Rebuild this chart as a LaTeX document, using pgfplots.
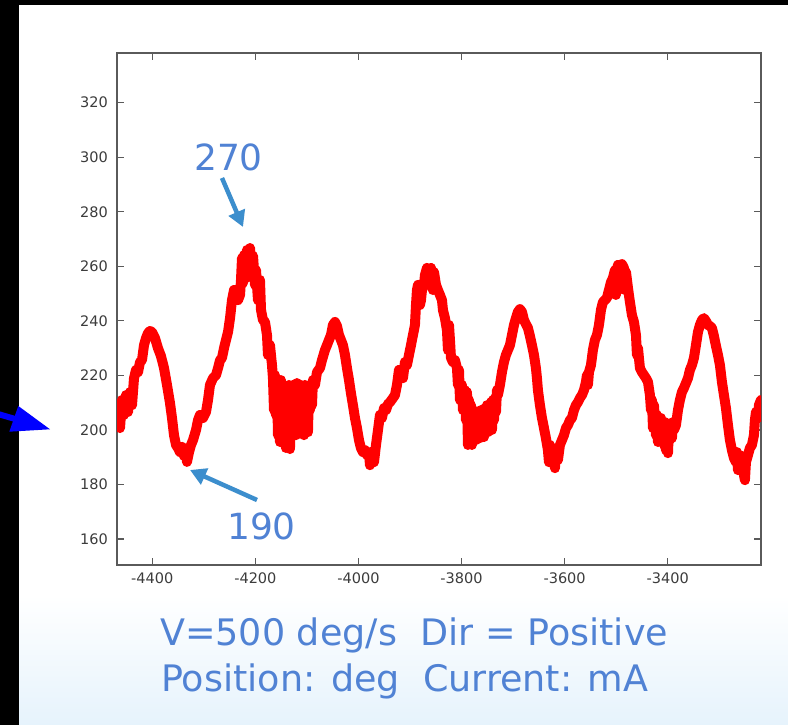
\documentclass[border=0pt]{standalone}
\usepackage{pgfplots}
\pgfplotsset{compat=1.18}
\usepackage{fontspec}
\setmainfont{Liberation Sans}
\newfontfamily\tickfont{DejaVu Sans}
\newfontfamily\annofont{DejaVu Sans}
\usetikzlibrary{arrows.meta}

\definecolor{axisgray}{RGB}{90,90,90}
\definecolor{labelgray}{RGB}{60,60,60}
\definecolor{annoblue}{RGB}{80,130,212}
\definecolor{arrowblue}{RGB}{60,142,205}
\definecolor{bgblue}{RGB}{230,243,252}

\begin{document}
\begin{tikzpicture}[x=1pt,y=1pt]
% page background: white panel, black frame strips, pale blue foot
\path[use as bounding box] (0,0) rectangle (788,725);
\fill[white] (0,0) rectangle (788,725);
\shade[top color=white, bottom color=bgblue] (0,0) rectangle (788,130);
\fill[black] (0,0) rectangle (19,725);
\fill[black] (0,720) rectangle (788,725);

\begin{axis}[
    at={(117pt,160pt)}, anchor=south west,
    width=644pt, height=512pt, scale only axis,
    xmin=-4468.5, xmax=-3219, ymin=150.5, ymax=338.2,
    xtick={-4400,-4200,...,-3400},
    ytick={160,180,...,320},
    tick align=inside,
    major tick length=7pt,
    axis line style={draw=axisgray, line width=1.2pt},
    tick style={draw=axisgray, line width=1.2pt},
    /pgf/number format/assume math mode=true,
    /pgf/number format/1000 sep={},
    ticklabel style={font=\tickfont\fontsize{14.5}{14.5}\selectfont, text=labelgray},
    xticklabel style={anchor=north, inner sep=0pt, yshift=-8pt},
    yticklabel style={anchor=east, inner sep=0pt, xshift=-9pt},
]
% current trace, position in deg, current in mA
\addplot[red, line width=10pt, line join=round, line cap=round, no markers] coordinates {
(-4468.5,209.1) (-4466.6,201.1) (-4464.6,207.3) (-4462.7,200.7) (-4458.8,211.0)
(-4454.9,205.5) (-4451.0,212.8) (-4447.1,206.6) (-4443.3,213.9) (-4439.4,209.1)
(-4435.5,219.0) (-4431.6,222.0) (-4427.7,221.2) (-4423.9,224.9) (-4420.0,225.6)
(-4416.1,231.1) (-4412.2,233.7) (-4408.3,235.5) (-4404.5,236.3) (-4400.6,235.9)
(-4394.8,233.7) (-4389.0,230.0) (-4383.2,227.1) (-4377.3,222.7) (-4371.5,216.5)
(-4365.7,209.9) (-4361.8,204.4) (-4357.9,198.1) (-4354.0,194.5) (-4350.2,193.4)
(-4346.3,191.9) (-4342.4,193.8) (-4338.5,190.5) (-4334.6,191.9) (-4332.7,188.3)
(-4328.8,191.9) (-4324.9,194.5) (-4321.0,196.3) (-4315.2,200.0) (-4311.3,203.6)
(-4307.5,205.5) (-4301.6,204.4) (-4295.8,206.6) (-4291.9,211.0) (-4288.1,216.5)
(-4282.2,219.0) (-4276.4,220.1) (-4272.5,222.7) (-4268.6,225.6) (-4264.8,226.4)
(-4260.9,230.0) (-4257.0,233.0) (-4253.1,235.9) (-4249.2,241.0) (-4245.4,247.6)
(-4241.5,251.3) (-4237.6,250.6) (-4233.7,247.6) (-4229.8,249.5) (-4227.9,255.0)
(-4226.0,263.0) (-4224.0,253.9) (-4222.1,264.1) (-4218.2,255.7) (-4216.3,266.0)
(-4212.4,258.6) (-4210.4,266.7) (-4206.6,256.8) (-4204.6,263.8) (-4200.8,253.2)
(-4198.8,258.6) (-4195.0,247.6) (-4191.1,255.0) (-4189.1,244.0) (-4185.3,240.3)
(-4181.4,239.6) (-4177.5,234.8) (-4175.6,227.5) (-4171.7,231.1) (-4167.8,223.8)
(-4165.9,219.0) (-4163.9,207.3) (-4162.0,220.1) (-4160.1,205.5) (-4158.1,218.3)
(-4156.2,198.1) (-4154.2,216.5) (-4152.3,195.6) (-4150.4,218.3) (-4148.4,201.8)
(-4146.5,214.6) (-4144.5,196.3) (-4142.6,212.8) (-4140.7,193.4) (-4138.7,214.6)
(-4136.8,200.0) (-4134.8,216.5) (-4132.9,193.0) (-4131.0,213.9) (-4129.0,200.0)
(-4127.1,216.5) (-4125.1,203.6) (-4123.2,215.4) (-4121.3,198.1) (-4119.3,217.2)
(-4117.4,201.8) (-4115.4,214.6) (-4113.5,199.2) (-4111.6,216.5) (-4109.6,200.7)
(-4107.7,214.6) (-4105.7,198.1) (-4103.8,216.5) (-4101.9,203.6) (-4099.9,214.6)
(-4098.0,199.2) (-4096.0,215.4) (-4094.1,207.3) (-4092.2,216.5) (-4090.2,209.1)
(-4088.3,218.3) (-4084.4,216.5) (-4080.5,221.2) (-4074.7,222.7) (-4070.8,225.6)
(-4065.0,229.3) (-4061.1,231.1) (-4057.2,233.0) (-4053.4,234.8) (-4049.5,238.5)
(-4045.6,239.6) (-4041.7,238.1) (-4037.8,234.8) (-4034.0,233.0) (-4030.1,231.1)
(-4026.2,227.5) (-4022.3,222.7) (-4018.4,218.3) (-4014.6,213.5) (-4010.7,209.1)
(-4006.8,204.4) (-4002.9,200.7) (-3999.0,196.3) (-3995.2,193.4) (-3991.3,191.9)
(-3987.4,192.6) (-3983.5,190.8) (-3979.6,191.9) (-3977.7,187.1) (-3973.8,190.8)
(-3969.9,188.2) (-3966.0,194.5) (-3962.1,200.0) (-3958.3,205.5) (-3954.4,204.4)
(-3950.5,208.0) (-3946.6,207.3) (-3942.7,209.5) (-3938.9,210.2) (-3933.1,211.7)
(-3929.2,212.8) (-3925.3,216.5) (-3921.4,222.0) (-3917.5,221.2) (-3913.7,219.0)
(-3909.8,224.9) (-3905.9,223.8) (-3902.0,227.5) (-3898.1,231.1) (-3894.3,234.8)
(-3890.4,238.5) (-3888.4,245.8) (-3886.5,251.3) (-3884.5,253.2) (-3882.6,249.5)
(-3880.7,245.8) (-3878.7,247.6) (-3876.8,251.3) (-3872.9,253.2) (-3871.0,256.8)
(-3867.1,259.4) (-3863.2,257.9) (-3859.3,259.4) (-3855.5,251.3) (-3853.5,257.9)
(-3849.6,253.2) (-3845.8,251.3) (-3841.9,249.5) (-3838.0,247.6) (-3836.1,244.0)
(-3832.2,241.0) (-3828.3,236.6) (-3826.4,229.3) (-3824.4,238.5) (-3822.5,233.0)
(-3820.5,226.4) (-3816.7,224.9) (-3812.8,225.6) (-3808.9,222.7) (-3807.0,216.5)
(-3805.0,222.0) (-3803.1,211.0) (-3799.2,216.5) (-3797.3,207.3) (-3793.4,214.6)
(-3791.4,203.6) (-3789.5,213.9) (-3787.6,194.5) (-3785.6,211.0) (-3783.7,196.3)
(-3781.7,209.1) (-3779.8,194.5) (-3777.9,207.3) (-3775.9,201.8) (-3774.0,205.5)
(-3772.0,196.3) (-3770.1,206.6) (-3768.2,198.1) (-3766.2,204.4) (-3764.3,197.0)
(-3762.3,207.3) (-3760.4,200.0) (-3758.5,206.6) (-3756.5,197.4) (-3754.6,208.0)
(-3752.6,200.0) (-3750.7,209.1) (-3748.8,199.2) (-3746.8,207.3) (-3744.9,200.7)
(-3742.9,210.2) (-3741.0,200.0) (-3739.1,211.0) (-3737.1,203.6) (-3735.2,211.7)
(-3733.2,206.6) (-3731.3,214.6) (-3729.4,212.8) (-3725.5,216.5) (-3721.6,221.2)
(-3717.7,224.9) (-3713.9,227.5) (-3710.0,229.3) (-3706.1,231.1) (-3702.2,234.8)
(-3698.3,238.5) (-3694.5,241.0) (-3690.6,243.3) (-3686.7,244.3) (-3682.8,243.3)
(-3678.9,240.3) (-3675.1,238.8) (-3671.2,237.4) (-3667.3,234.4) (-3663.4,231.1)
(-3659.5,227.5) (-3655.7,222.7) (-3653.7,219.0) (-3651.8,214.6) (-3647.9,209.1)
(-3644.0,204.4) (-3640.1,200.7) (-3636.3,197.0) (-3632.4,192.6) (-3630.4,188.2)
(-3628.5,194.5) (-3624.6,189.0) (-3622.7,193.4) (-3618.8,186.0) (-3616.8,192.6)
(-3613.0,189.0) (-3609.1,194.5) (-3605.2,196.3) (-3601.3,198.1) (-3597.4,200.7)
(-3593.6,201.8) (-3589.7,203.6) (-3585.8,204.4) (-3581.9,207.3) (-3578.0,209.1)
(-3574.2,210.2) (-3570.3,211.7) (-3566.4,212.8) (-3562.5,214.6) (-3558.6,217.6)
(-3556.7,220.1) (-3554.8,216.5) (-3552.8,221.2) (-3548.9,223.8) (-3545.1,229.3)
(-3541.2,233.0) (-3537.3,234.8) (-3533.4,238.5) (-3529.5,244.0) (-3525.7,246.9)
(-3521.8,247.6) (-3517.9,248.4) (-3514.0,251.3) (-3510.1,254.2) (-3506.3,255.7)
(-3502.4,258.6) (-3500.4,249.5) (-3498.5,256.8) (-3496.5,260.5) (-3492.7,259.7)
(-3488.8,260.8) (-3484.9,259.4) (-3483.0,251.3) (-3481.0,257.9) (-3477.1,252.0)
(-3473.3,246.9) (-3469.4,242.1) (-3465.5,239.6) (-3461.6,234.8) (-3459.7,227.5)
(-3457.7,230.0) (-3453.9,222.7) (-3450.0,221.2) (-3446.1,220.1) (-3442.2,219.0)
(-3438.3,217.6) (-3434.5,212.8) (-3432.5,207.3) (-3430.6,211.0) (-3428.6,200.7)
(-3426.7,209.1) (-3424.8,203.6) (-3422.8,198.1) (-3420.9,205.5) (-3418.9,195.6)
(-3417.0,203.6) (-3415.1,197.0) (-3413.1,204.4) (-3411.2,196.3) (-3409.2,201.8)
(-3407.3,194.5) (-3405.4,202.9) (-3403.4,192.6) (-3401.5,201.8) (-3399.5,191.5)
(-3397.6,200.7) (-3395.7,196.3) (-3393.7,201.8) (-3391.8,197.0) (-3389.8,202.9)
(-3387.9,200.0) (-3384.0,201.8) (-3380.1,207.3) (-3376.3,211.0) (-3372.4,213.9)
(-3368.5,215.4) (-3364.6,217.2) (-3360.7,219.0) (-3356.9,222.0) (-3353.0,223.8)
(-3349.1,226.4) (-3345.2,231.1) (-3341.3,235.9) (-3337.5,238.5) (-3333.6,240.3)
(-3329.7,241.0) (-3325.8,239.9) (-3321.9,238.5) (-3318.1,238.1) (-3314.2,237.4)
(-3310.3,234.4) (-3306.4,230.8) (-3302.5,227.5) (-3298.7,223.8) (-3294.8,217.6)
(-3290.9,212.8) (-3287.0,208.0) (-3283.1,201.8) (-3279.3,196.3) (-3275.4,192.6)
(-3271.5,189.7) (-3267.6,188.2) (-3265.7,191.9) (-3263.7,185.3) (-3259.9,190.8)
(-3257.9,186.0) (-3256.0,189.7) (-3252.1,183.5) (-3250.2,181.6) (-3248.2,188.2)
(-3244.3,190.8) (-3240.5,193.4) (-3236.6,194.5) (-3232.7,198.1) (-3230.8,203.6)
(-3228.8,206.6) (-3224.9,204.4) (-3223.0,209.1) (-3219.1,211.0)
};
\end{axis}

% annotations on the slide
\node[font=\annofont\fontsize{36}{36}\selectfont, text=annoblue, inner sep=0pt] at (228.5,567.5) {270};
\draw[arrowblue, line width=4.5pt, -{Triangle[width=17pt,length=16pt]}] (222,547) -- (243,498);
\node[font=\annofont\fontsize{36}{36}\selectfont, text=annoblue, inner sep=0pt] at (261.5,198.5) {190};
\draw[arrowblue, line width=4.5pt, -{Triangle[width=17pt,length=16pt]}] (257,225) -- (190,255);
\node[font=\annofont\fontsize{36.5}{36.5}\selectfont, text=annoblue, inner sep=0pt, anchor=base west] at (160,79) {V=500 deg/s\ \ Dir = Positive};
\node[font=\annofont\fontsize{36.5}{36.5}\selectfont, text=annoblue, inner sep=0pt, anchor=base west] at (161,33) {Position: deg\ \ Current: mA};
% blue pointer at the left edge
\draw[blue, line width=6pt] (-2,311) -- (22,304);
\fill[blue] (18.3,319) -- (9.3,293.3) -- (50,295.7) -- cycle;
\end{tikzpicture}
\end{document}
